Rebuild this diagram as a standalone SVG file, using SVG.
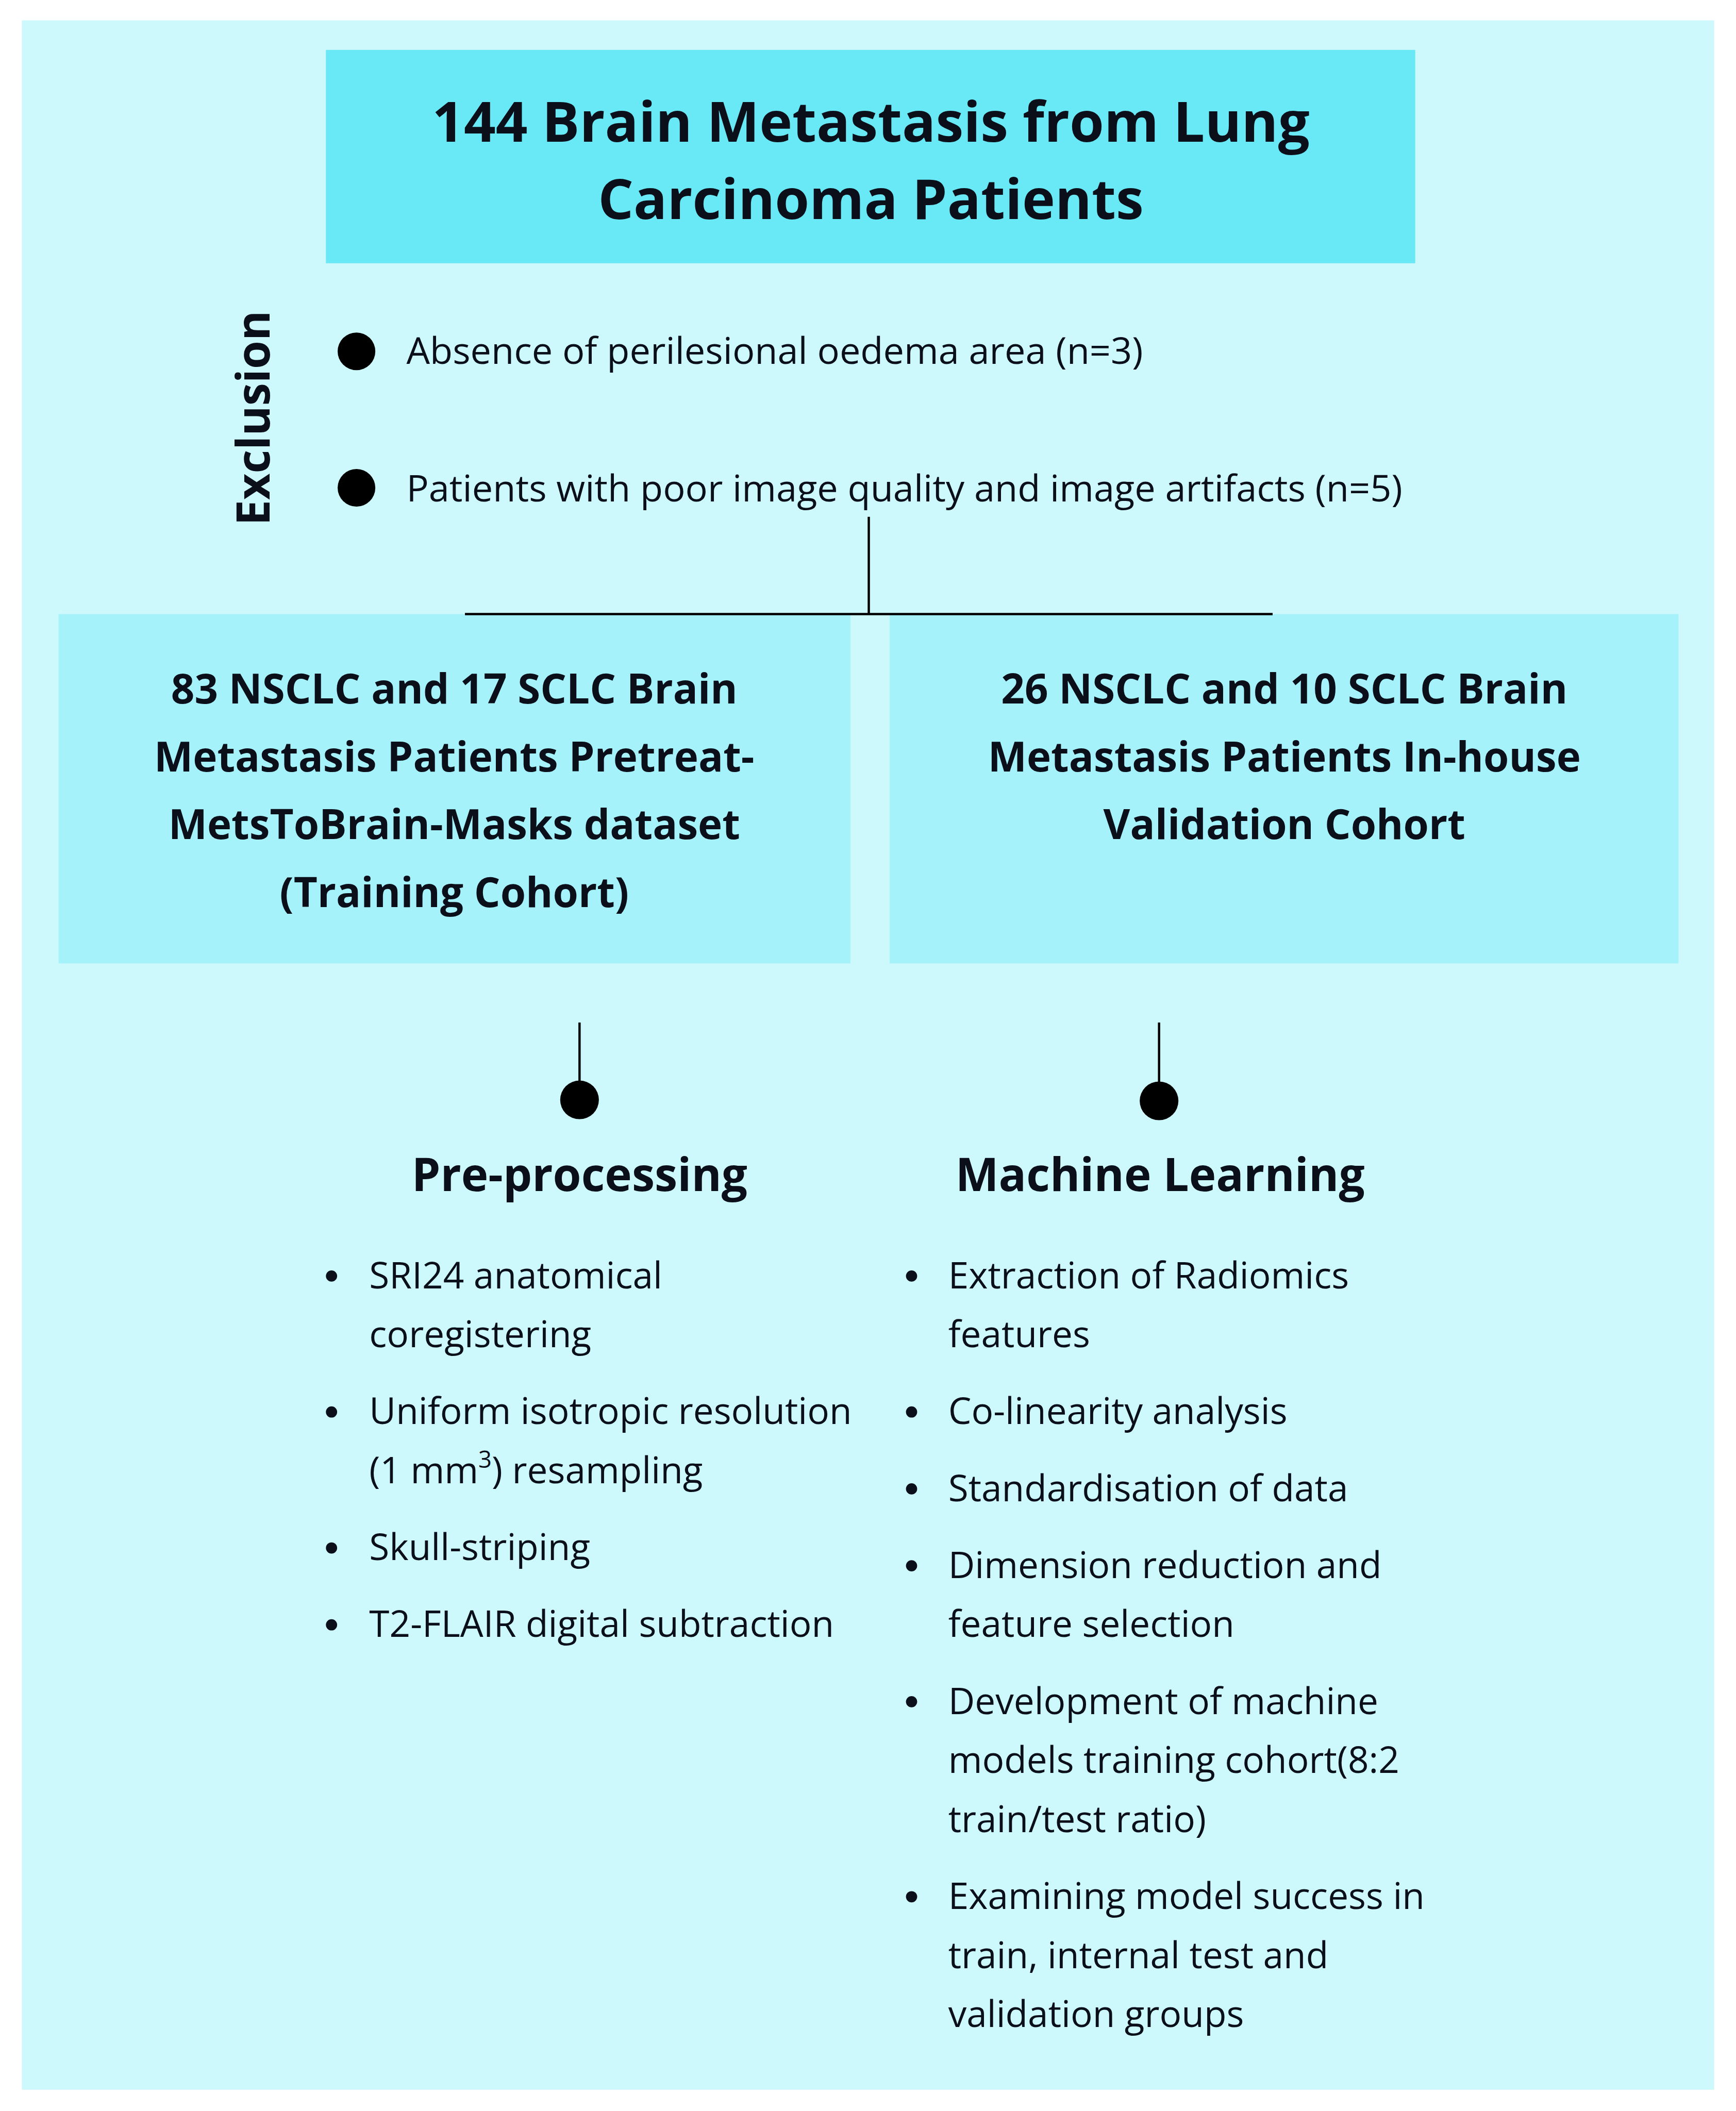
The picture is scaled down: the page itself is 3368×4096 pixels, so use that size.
<svg xmlns="http://www.w3.org/2000/svg" width="3368" height="4096" viewBox="0 0 3368 4096">
<style>
.t{font-family:"Open Sans","Noto Sans","Liberation Sans",sans-serif;fill:#0b0f1a}
.b{font-weight:bold}
.title{font-size:109.5px;font-weight:bold;text-anchor:middle}
.box{font-size:80.8px;font-weight:bold;text-anchor:middle}
.head{font-size:90px;font-weight:bold;text-anchor:middle}
.exc{font-size:73px}
.li{font-size:72px}
.ln{stroke:#000;stroke-width:4.5;fill:none}
</style>
<rect x="0" y="0" width="3368" height="4096" fill="#ffffff"/>
<g transform="scale(0.988)">
<rect id="background" x="43" y="40" width="3323" height="4064" fill="#cdf9fd"/>

<g id="node-title">
<rect x="640" y="98" width="2139" height="419" fill="#69e8f5"/>
<text class="t title" x="1710" y="278">144 Brain Metastasis from Lung</text>
<text class="t title" x="1710" y="430">Carcinoma Patients</text>
</g>

<g id="node-exclusion">
<text class="t b" font-size="90" text-anchor="middle" transform="translate(529,821) rotate(-90)">Exclusion</text>
<circle cx="700" cy="690" r="37" fill="#000"/>
<text class="t exc" x="798" y="715">Absence of perilesional oedema area (n=3)</text>
<circle cx="700" cy="958" r="37" fill="#000"/>
<text class="t exc" x="798" y="985">Patients with poor image quality and image artifacts (n=5)</text>
</g>

<g id="node-training">
<rect x="115" y="1206" width="1555" height="686" fill="#a5f2fa"/>
<text class="t box" x="892" y="1382">83 NSCLC and 17 SCLC Brain</text>
<text class="t box" x="892" y="1515">Metastasis Patients Pretreat-</text>
<text class="t box" x="892" y="1648">MetsToBrain-Masks dataset</text>
<text class="t box" x="892" y="1781">(Training Cohort)</text>
</g>

<g id="node-validation">
<rect x="1747" y="1206" width="1549" height="686" fill="#a5f2fa"/>
<text class="t box" x="2522" y="1382">26 NSCLC and 10 SCLC Brain</text>
<text class="t box" x="2522" y="1515">Metastasis Patients In-house</text>
<text class="t box" x="2522" y="1648">Validation Cohort</text>
</g>

<g id="connectors">
<line class="ln" x1="1706" y1="1015" x2="1706" y2="1206"/>
<line class="ln" x1="913" y1="1206" x2="2499" y2="1206"/>
<line class="ln" x1="1138" y1="2008" x2="1138" y2="2140"/>
<circle cx="1138" cy="2160" r="38" fill="#000"/>
<line class="ln" x1="2276" y1="2008" x2="2276" y2="2140"/>
<circle cx="2276" cy="2162" r="38" fill="#000"/>
</g>

<g id="node-preprocessing">
<text class="t head" x="1138" y="2339">Pre-processing</text>
<circle cx="651" cy="2506" r="11" fill="#0b0f1a"/>
<text class="t li" x="725" y="2530">SRI24 anatomical</text>
<text class="t li" x="725" y="2646">coregistering</text>
<circle cx="651" cy="2773" r="11" fill="#0b0f1a"/>
<text class="t li" x="725" y="2797">Uniform isotropic resolution</text>
<text class="t li" x="725" y="2913">(1 mm<tspan font-size="46" dy="-30">3</tspan><tspan dy="30">) resampling</tspan></text>
<circle cx="651" cy="3040" r="11" fill="#0b0f1a"/>
<text class="t li" x="725" y="3064">Skull-striping</text>
<circle cx="651" cy="3191" r="11" fill="#0b0f1a"/>
<text class="t li" x="725" y="3215">T2-FLAIR digital subtraction</text>
</g>

<g id="node-machine-learning">
<text class="t head" x="2278" y="2339">Machine Learning</text>
<circle cx="1790" cy="2506" r="11" fill="#0b0f1a"/>
<text class="t li" x="1862" y="2530">Extraction of Radiomics</text>
<text class="t li" x="1862" y="2646">features</text>
<circle cx="1790" cy="2773" r="11" fill="#0b0f1a"/>
<text class="t li" x="1862" y="2797">Co-linearity analysis</text>
<circle cx="1790" cy="2924" r="11" fill="#0b0f1a"/>
<text class="t li" x="1862" y="2948">Standardisation of data</text>
<circle cx="1790" cy="3075" r="11" fill="#0b0f1a"/>
<text class="t li" x="1862" y="3099">Dimension reduction and</text>
<text class="t li" x="1862" y="3215">feature selection</text>
<circle cx="1790" cy="3342" r="11" fill="#0b0f1a"/>
<text class="t li" x="1862" y="3366">Development of machine</text>
<text class="t li" x="1862" y="3482">models training cohort(8:2</text>
<text class="t li" x="1862" y="3598">train/test ratio)</text>
<circle cx="1790" cy="3725" r="11" fill="#0b0f1a"/>
<text class="t li" x="1862" y="3749">Examining model success in</text>
<text class="t li" x="1862" y="3865">train, internal test and</text>
<text class="t li" x="1862" y="3981">validation groups</text>
</g>
</g>
</svg>
